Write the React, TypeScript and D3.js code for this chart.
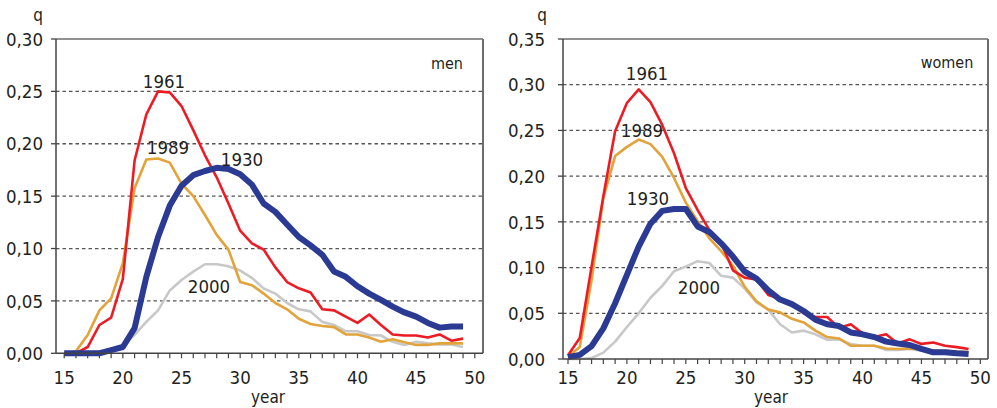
import React from "react";
import * as d3 from "d3";

const ages = [15,16,17,18,19,20,21,22,23,24,25,26,27,28,29,30,31,32,33,34,35,36,37,38,39,40,41,42,43,44,45,46,47,48,49];
const xTickLabels = [15,20,25,30,35,40,45,50];

const menQ1930 = [0,0,0,0,0.003,0.006,0.024,0.073,0.111,0.141, 0.160,0.170,0.174,0.177,0.176,0.171,0.161,0.143,0.135,0.123, 0.111,0.103,0.094,0.078,0.073,0.064,0.057,0.051,0.0445,0.039, 0.035,0.029,0.0245,0.0255,0.0255];
const menQ1961 = [0,0,0.006,0.027,0.034,0.071,0.184,0.228,0.250,0.249, 0.236,0.213,0.189,0.168,0.143,0.117,0.105,0.099,0.082,0.068, 0.062,0.058,0.042,0.041,0.035,0.029,0.037,0.027,0.018,0.017, 0.017,0.015,0.018,0.012,0.014];
const menQ1989 = [0,0.002,0.0175,0.041,0.0525,0.086,0.1575,0.185,0.186,0.182, 0.162,0.150,0.132,0.113,0.099,0.068,0.065,0.057,0.048,0.042, 0.033,0.028,0.026,0.025,0.018,0.018,0.015,0.011,0.0135,0.0105, 0.008,0.008,0.0095,0.0095,0.0095];
const menQ2000 = [0,0,0.001,0.002,0.004,0.008,0.0175,0.030,0.041,0.060, 0.070,0.078,0.085,0.085,0.083,0.079,0.072,0.062,0.057,0.048, 0.042,0.040,0.030,0.027,0.021,0.021,0.0175,0.017,0.011,0.008, 0.011,0.0095,0.0085,0.0085,0.006];

const womenQ1930 = [0.002,0.0045,0.014,0.0335,0.061,0.092,0.123,0.148,0.162,0.164, 0.164,0.145,0.139,0.1265,0.112,0.0955,0.088,0.075,0.065,0.060, 0.0525,0.043,0.038,0.036,0.029,0.027,0.024,0.019,0.017,0.0153, 0.011,0.0073,0.0073,0.0062,0.0055];
const womenQ1961 = [0.004,0.023,0.101,0.178,0.249,0.280,0.295,0.281,0.256,0.225, 0.187,0.163,0.141,0.127,0.097,0.089,0.087,0.070,0.066,0.061, 0.050,0.046,0.046,0.034,0.038,0.028,0.024,0.027,0.017,0.0215, 0.0165,0.018,0.0145,0.013,0.011];
const womenQ1989 = [0.0025,0.013,0.086,0.176,0.222,0.232,0.240,0.235,0.221,0.198, 0.171,0.151,0.132,0.118,0.102,0.079,0.063,0.054,0.051,0.044, 0.040,0.031,0.024,0.0225,0.0145,0.0145,0.0145,0.0115,0.011,0.0115, 0.011,0.009,0.009,0.008,0.008];
const womenQ2000 = [0,0,0.001,0.007,0.019,0.035,0.050,0.067,0.080,0.096, 0.101,0.107,0.105,0.091,0.089,0.077,0.062,0.054,0.038,0.029, 0.031,0.027,0.021,0.0215,0.0165,0.0145,0.0145,0.0098,0.0098,0.011, 0.009,0.008,0.008,0.0075,0.0066];

const menYTicks = [0,0.05,0.10,0.15,0.20,0.25,0.30];
const womenYTicks = [0,0.05,0.10,0.15,0.20,0.25,0.30,0.35];

const COLORS = { c1930: "#2b3a92", c1961: "#ec1c24", c1989: "#e2a33a", c2000: "#c8c8c8" };
const FONT = "'Liberation Sans Narrow', 'Arial Narrow', 'DejaVu Sans Condensed', 'Liberation Sans', Arial, sans-serif";

type Series = { name: string; values: number[]; color: string; width: number; label: [number, number] };

type PanelProps = {
  x0: number; x1: number; yTop: number; yBottom: number;
  xDomain: [number, number]; yMax: number; yTicks: number[];
  series: Series[]; title: string; titlePos: [number, number];
  yLabelGap: number; qPos: [number, number]; yearX: number;
};

function Panel(p: PanelProps) {
  const x = d3.scaleLinear().domain(p.xDomain).range([p.x0, p.x1]);
  const y = d3.scaleLinear().domain([0, p.yMax]).range([p.yBottom, p.yTop]);
  const line = d3.line<number>().x((_, i) => x(ages[i])).y((v) => y(v));
  const minor = d3.range(15, 51);
  const fmt = (v: number) => v.toFixed(2).replace(".", ",");
  return (
    <g fontFamily={FONT} fill="#231f20">
      {p.yTicks.filter((t) => t > 0 && t < p.yMax).map((t) => (
        <line key={"g" + t} x1={p.x0} x2={p.x1} y1={y(t)} y2={y(t)} stroke="#555" strokeWidth={1.3} strokeDasharray="3.5,3" />
      ))}
      <line x1={p.x0} x2={p.x1} y1={p.yTop} y2={p.yTop} stroke="#6d6d6d" strokeWidth={1.5} />
      <line x1={p.x1} x2={p.x1} y1={p.yTop} y2={p.yBottom} stroke="#6d6d6d" strokeWidth={2} />
      {p.series.map((s) => (
        <path key={s.name} d={line(s.values) || ""} fill="none" stroke={s.color} strokeWidth={s.width} strokeLinejoin="round" />
      ))}
      <line x1={p.x0} x2={p.x0} y1={p.yTop} y2={p.yBottom} stroke="#444" strokeWidth={1.5} />
      <line x1={p.x0} x2={p.x1} y1={p.yBottom} y2={p.yBottom} stroke="#444" strokeWidth={1.5} />
      {p.yTicks.map((t) => (
        <g key={"yt" + t}>
          <line x1={p.x0 - 5} x2={p.x0} y1={y(t)} y2={y(t)} stroke="#444" strokeWidth={1.3} />
          <text x={p.x0 - p.yLabelGap} y={y(t)} dy="0.36em" textAnchor="end" fontSize={18.5}>{fmt(t)}</text>
        </g>
      ))}
      {minor.map((m) => (
        <line key={"xt" + m} x1={x(m)} x2={x(m)} y1={p.yBottom} y2={p.yBottom + 5} stroke="#444" strokeWidth={1.2} />
      ))}
      {xTickLabels.map((t) => (
        <text key={"xl" + t} x={x(t)} y={384} textAnchor="middle" fontSize={18.5}>{t}</text>
      ))}
      {p.series.map((s) => (
        <text key={"lab" + s.name} x={s.label[0]} y={s.label[1]} dy="0.36em" textAnchor="middle" fontSize={18.5}>{s.name}</text>
      ))}
      <text x={p.titlePos[0]} y={p.titlePos[1]} dy="0.36em" textAnchor="middle" fontSize={16}>{p.title}</text>
      <text x={p.qPos[0]} y={p.qPos[1]} textAnchor="middle" fontSize={17}>q</text>
      <text x={p.yearX} y={403} textAnchor="middle" fontSize={17}>year</text>
    </g>
  );
}

export default function App() {
  const menSeries: Series[] = [
    { name: "2000", values: menQ2000, color: COLORS.c2000, width: 2.6, label: [209, 286] },
    { name: "1989", values: menQ1989, color: COLORS.c1989, width: 2.6, label: [168, 147] },
    { name: "1961", values: menQ1961, color: COLORS.c1961, width: 2.6, label: [164, 81] },
    { name: "1930", values: menQ1930, color: COLORS.c1930, width: 6, label: [242, 159] },
  ];
  const womenSeries: Series[] = [
    { name: "2000", values: womenQ2000, color: COLORS.c2000, width: 2.6, label: [699, 287] },
    { name: "1989", values: womenQ1989, color: COLORS.c1989, width: 2.6, label: [642, 130] },
    { name: "1961", values: womenQ1961, color: COLORS.c1961, width: 2.6, label: [647, 73] },
    { name: "1930", values: womenQ1930, color: COLORS.c1930, width: 6, label: [648, 198] },
  ];
  return (
    <svg width={997} height={408} style={{ position: "absolute", left: 0, top: 0, background: "#fff" }}>
      <rect width={997} height={408} fill="#fff" />
      <Panel x0={56} x1={483} yTop={39} yBottom={353.3} xDomain={[14.3, 50.7]} yMax={0.3} yTicks={menYTicks}
        series={menSeries} title="men" titlePos={[447, 63]} yLabelGap={13} qPos={[38, 21]} yearX={268} />
      <Panel x0={563} x1={988} yTop={39} yBottom={359} xDomain={[14.576, 50.65]} yMax={0.35} yTicks={womenYTicks}
        series={womenSeries} title="women" titlePos={[947, 62]} yLabelGap={18} qPos={[542, 21]} yearX={771} />
    </svg>
  );
}
